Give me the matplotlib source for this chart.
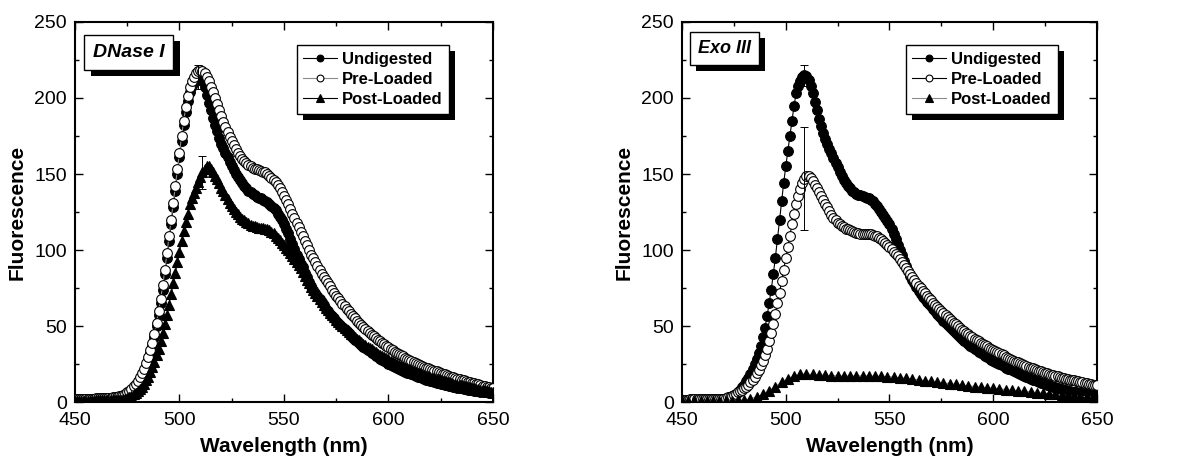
"""
Fluorescence emission spectra after DNase I / Exo III digestion.
"""

import numpy as np
import matplotlib.pyplot as plt
from matplotlib import patheffects as pe
from matplotlib.ticker import MultipleLocator

plt.rcParams['font.family'] = ['Liberation Sans', 'DejaVu Sans']

# --- DATA ---
wavelength = np.arange(450, 651)          # 1 nm steps
wavelength_coarse = np.arange(450, 649, 3)  # Exo III post-loaded scan, 3 nm steps

dnase_undigested = [
    1.9, 1.9, 2.0, 2.0, 1.9, 2.0, 2.0, 2.1, 2.0, 2.1,
    2.1, 2.1, 2.2, 2.2, 2.3, 2.3, 2.4, 2.5, 2.6, 2.8,
    3.0, 3.3, 3.7, 4.2, 4.8, 5.5, 6.4, 7.5, 8.8, 10.4,
    12.3, 14.5, 17.0, 20.0, 23.5, 27.5, 32.0, 37.0, 43.0, 50.0,
    57, 65, 74, 84, 95, 106, 117, 128, 139, 150,
    161, 172, 182, 191, 198, 204, 208, 211, 213, 214,
    213, 211, 207, 202, 197, 192, 187, 182, 178, 174,
    170, 167, 164, 161, 158, 155, 152.5, 150, 148, 146,
    144, 142, 140.5, 139, 138, 137, 136, 135, 134.5, 134,
    133, 132.5, 131.5, 130.5, 129, 127.5, 126, 124, 122, 119.5,
    117, 114, 111, 107.5, 104, 100.5, 97, 94, 91, 88.5,
    85, 82, 79, 76.5, 74, 71.5, 69.5, 67.5, 65.5, 63.5,
    61.5, 59.8, 58.2, 56.6, 55.1, 53.6, 52.2, 50.8, 49.4, 47.9,
    46.5, 45.1, 43.7, 42.4, 41.1, 39.9, 38.7, 37.5, 36.4, 35.3,
    34.3, 33.3, 32.3, 31.3, 30.4, 29.5, 28.6, 27.7, 26.9, 26.1,
    25.3, 24.6, 23.9, 23.2, 22.5, 21.8, 21.2, 20.6, 20.0, 19.4,
    18.8, 18.3, 17.7, 17.2, 16.7, 16.2, 15.7, 15.2, 14.8, 14.3,
    13.9, 13.5, 13.1, 12.7, 12.3, 12.0, 11.6, 11.3, 10.9, 10.6,
    10.3, 10.0, 9.7, 9.4, 9.2, 8.9, 8.6, 8.4, 8.1, 7.9,
    7.7, 7.5, 7.3, 7.1, 6.9, 6.7, 6.5, 6.3, 6.1, 5.9,
    5.8,
]

dnase_preloaded = [
    2.0, 2.1, 2.1, 2.2, 2.1, 2.2, 2.2, 2.3, 2.3, 2.3,
    2.4, 2.4, 2.5, 2.5, 2.6, 2.7, 2.8, 2.9, 3.0, 3.1,
    3.3, 3.7, 4.2, 4.8, 5.5, 6.4, 7.5, 8.8, 10.3, 12.0,
    14.0, 16.3, 19.0, 22.0, 25.5, 29.5, 34, 39, 45, 52,
    60, 68, 77, 87, 98, 109, 120, 131, 142, 153,
    164, 175, 185, 194, 201, 207, 211, 214, 216.5, 218,
    218.5, 218, 216.5, 214, 211, 207.5, 204, 200, 196, 192,
    188, 184.5, 181, 177.5, 174.5, 171.5, 169, 166.5, 164, 162,
    160, 158.5, 157, 156, 155, 154, 153.5, 153, 152.5, 152,
    151.5, 151, 150, 149, 147.5, 146, 144.5, 142.5, 140.5, 138,
    135.5, 133, 130, 127, 124, 121, 118, 115, 112, 109,
    106, 103, 100, 97, 94.5, 92, 89.5, 87, 84.5, 82,
    80, 78, 76, 74, 72, 70, 68.2, 66.4, 64.6, 62.9,
    61.2, 59.6, 58, 56.5, 55, 53.5, 52.1, 50.7, 49.4, 48.1,
    46.8, 45.6, 44.4, 43.2, 42.1, 41, 39.9, 38.9, 37.9, 36.9,
    35.9, 35, 34.1, 33.2, 32.4, 31.6, 30.8, 30, 29.2, 28.5,
    27.8, 27.1, 26.4, 25.7, 25.1, 24.5, 23.9, 23.3, 22.7, 22.1,
    21.6, 21.1, 20.6, 20.1, 19.6, 19.1, 18.6, 18.1, 17.6, 17.2,
    16.6, 16.2, 15.8, 15.4, 15.0, 14.6, 14.2, 13.8, 13.4, 13.0,
    12.6, 12.3, 12.0, 11.6, 11.2, 10.8, 10.4, 10.0, 9.7, 9.4,
    9.1,
]

dnase_postloaded = [
    0.8, 0.8, 0.8, 0.9, 0.8, 0.9, 0.9, 0.9, 0.9, 0.9,
    1.0, 1.0, 1.0, 1.0, 1.0, 1.0, 1.1, 1.1, 1.1, 1.1,
    1.2, 1.4, 1.6, 1.9, 2.3, 2.8, 3.4, 4.1, 5.0, 6.0,
    7.2, 8.6, 10.2, 12.0, 14.2, 16.7, 19.5, 22.8, 26.5, 30.6,
    35.2, 40.2, 45.6, 51.4, 57.5, 64, 71, 78, 85, 92,
    99, 106, 112.5, 118.5, 124, 130, 134, 137.5, 141, 144.5,
    148, 151, 153.5, 155, 155, 153.5, 151.5, 149, 146.5, 144,
    141, 138.5, 136, 133.5, 131, 129, 127, 125, 123.5, 122,
    120.5, 119.5, 118.5, 117.5, 116.5, 116, 115.5, 115, 114.5, 114.5,
    114.5, 114, 113.5, 113, 112, 111, 109.5, 108, 106.5, 104.5,
    103, 101.5, 100, 98, 96, 94, 92, 90, 88, 85.5,
    83, 80.5, 78, 75.5, 73.5, 71.5, 69.5, 67.5, 65.5, 63.7,
    62, 60.3, 58.7, 57.1, 55.6, 54.1, 52.7, 51.3, 50, 48.7,
    47.4, 46.2, 45, 43.8, 42.7, 41.6, 40.5, 39.4, 38.4, 37.4,
    36.4, 35.5, 34.6, 33.7, 32.8, 31.9, 31.1, 30.3, 29.5, 28.7,
    28, 27.3, 26.6, 25.9, 25.2, 24.5, 23.9, 23.3, 22.7, 22.1,
    21.5, 20.9, 20.4, 19.9, 19.4, 18.9, 18.4, 17.9, 17.4, 16.9,
    16.5, 16.1, 15.7, 15.3, 14.9, 14.5, 14.1, 13.7, 13.3, 12.9,
    12.5, 12.1, 11.8, 11.5, 11.2, 10.9, 10.6, 10.3, 10.0, 9.7,
    9.4, 9.1, 8.8, 8.5, 8.2, 7.9, 7.6, 7.3, 7.0, 6.7,
    6.4,
]

exo_undigested = [
    1.5, 1.5, 1.5, 1.6, 1.5, 1.6, 1.6, 1.6, 1.6, 1.7,
    1.7, 1.7, 1.7, 1.8, 1.8, 1.8, 1.8, 1.9, 1.9, 1.9,
    2.0, 2.3, 2.7, 3.2, 3.8, 4.6, 5.5, 6.6, 8.0, 9.6,
    11.5, 13.6, 16, 18.7, 21.6, 24.8, 28.4, 32.4, 37, 42.5,
    49, 56.5, 65, 74, 84, 95, 107, 119.5, 132, 144,
    155, 165, 175, 185, 195, 203, 208, 211, 213.5, 215,
    214.5, 212, 208, 203, 197.5, 192, 186.5, 181.5, 177, 173,
    169.5, 166.5, 163.5, 160.5, 157.5, 154.5, 151.5, 148.5, 146, 144,
    142, 140.5, 139, 138, 137, 136.5, 136, 135.5, 135, 134.5,
    134, 133, 132, 130.5, 129, 127, 125, 123, 121, 119,
    117, 114, 110.5, 107, 103.5, 100, 96.5, 93, 89.5, 86,
    83, 80.5, 78, 75.5, 73, 71, 69, 67.5, 66, 64.5,
    63, 61.3, 59.6, 58, 56.5, 55, 53.5, 52, 50.6, 49.2,
    47.8, 46.5, 45.2, 44, 42.8, 41.6, 40.4, 39.3, 38.2, 37.1,
    36.1, 35.1, 34.1, 33.1, 32.2, 31.3, 30.4, 29.5, 28.7, 27.9,
    27.1, 26.3, 25.5, 24.8, 24.1, 23.4, 22.7, 22, 21.4, 20.8,
    20.2, 19.5, 18.9, 18.2, 17.6, 17.0, 16.4, 15.8, 15.2, 14.7,
    14.2, 13.7, 13.2, 12.7, 12.2, 11.8, 11.4, 11.0, 10.6, 10.1,
    9.6, 9.2, 8.8, 8.5, 8.1, 7.8, 7.5, 7.2, 6.9, 6.6,
    6.4, 6.1, 5.9, 5.7, 5.4, 5.2, 5.0, 4.8, 4.6, 4.4,
    4.2,
]

exo_preloaded = [
    1.6, 1.6, 1.6, 1.6, 1.7, 1.7, 1.7, 1.7, 1.7, 1.8,
    1.8, 1.8, 1.8, 1.9, 1.9, 1.9, 1.9, 2.0, 2.0, 2.1,
    2.2, 2.6, 3.0, 3.5, 4.1, 4.8, 5.5, 6.3, 7.2, 8.1,
    9.1, 10.2, 11.5, 13, 14.7, 16.6, 18.8, 21.3, 24.1, 27.3,
    31, 35.2, 40, 45.5, 51.5, 58, 65, 72, 79.5, 87,
    94.5, 102, 109.5, 117, 124, 130, 135.5, 140, 144, 147,
    148.5, 148.5, 147.5, 145.5, 143, 140.5, 138, 135.5, 133, 130.5,
    128, 125.5, 123, 121, 119.5, 118, 117, 116, 115, 114,
    113.5, 113, 112.5, 112, 111.5, 111, 110.5, 110.5, 110.5, 110.5,
    110.5, 110.5, 110, 109.5, 109, 108, 107, 106, 104.5, 103,
    102, 100.5, 99, 97.5, 95.8, 94, 92, 90, 88, 86,
    84, 82, 80, 78.2, 76.4, 74.7, 73, 71.4, 69.8, 68.3,
    66.8, 65.3, 63.9, 62.5, 61.1, 59.7, 58.4, 57.1, 55.8, 54.6,
    53.4, 52.2, 51, 49.9, 48.8, 47.7, 46.6, 45.6, 44.6, 43.6,
    42.6, 41.7, 40.8, 39.9, 39, 38.2, 37.4, 36.6, 35.8, 35,
    34.2, 33.4, 32.7, 32, 31.3, 30.6, 29.9, 29.2, 28.5, 27.8,
    27.2, 26.6, 26, 25.4, 24.8, 24.2, 23.6, 23.1, 22.6, 22.1,
    21.6, 21.1, 20.6, 20.1, 19.6, 19.2, 18.8, 18.4, 18, 17.6,
    17.2, 16.8, 16.4, 16, 15.7, 15.4, 15.1, 14.8, 14.5, 14.2,
    13.9, 13.6, 13.3, 13, 12.7, 12.4, 12.1, 11.8, 11.5, 11.2,
    10.9,
]

exo_postloaded = [
    0.5, 0.5, 0.5, 0.5, 0.5, 0.6, 0.6, 0.7, 0.8, 1.0,
    1.4, 2.2, 3.4, 5.2, 7.5, 10.2, 13.0, 15.4, 17.2, 18.3,
    18.4, 18.1, 17.8, 17.6, 17.4, 17.2, 17.1, 17.0, 17.1, 17.2,
    17.1, 17.0, 16.9, 16.7, 16.4, 16.0, 15.6, 15.1, 14.6, 14.1,
    13.6, 13.1, 12.6, 12.1, 11.6, 11.1, 10.6, 10.2, 9.8, 9.4,
    9.0, 8.6, 8.2, 7.8, 7.4, 7.0, 6.6, 6.2, 5.8, 5.4,
    5.0, 4.7, 4.4, 4.1, 3.8, 3.5, 3.2,
]

# error bars: (series, wavelength, half-width)
dnase_errors = [('Undigested', 509, 8), ('Post-Loaded', 511, 11)]
exo_errors = [('Undigested', 509, 7), ('Pre-Loaded', 509, 34)]

LABELS = ['Undigested', 'Pre-Loaded', 'Post-Loaded']

fig = plt.figure(figsize=(11.83, 4.68), dpi=100)
ax1 = fig.add_axes([0.0634, 0.141, 0.3533, 0.812])
ax2 = fig.add_axes([0.5765, 0.141, 0.3508, 0.812])

shadow = [pe.SimplePatchShadow(offset=(4.5, -4.5), shadow_rgbFace='black', alpha=1.0),
          pe.Normal()]


def draw_panel(ax, series, errors, name, name_xy, legend_anchor, line_colors, name_size):
    lines = {}
    styles = [('o', 'black', 7.0), ('o', 'white', 7.0), ('^', 'black', 7.5)]
    for (x, y, label), (mk, fc, ms), lc in zip(series, styles, line_colors):
        ax.plot(x, y, '-', color=lc, lw=0.8, marker=mk, ms=ms,
                mfc=fc, mec='black', mew=0.8, label=label, zorder=3)
        lines[label] = (np.asarray(x), np.asarray(y))

    for label, nm, err in errors:
        x, y = lines[label]
        yv = y[x == nm][0]
        ax.errorbar(nm, yv, yerr=err, fmt='none', ecolor='black',
                    elinewidth=0.7, capsize=3, capthick=0.7, zorder=4)

    ax.set_xlim(450, 650)
    ax.set_ylim(0, 250)
    ax.xaxis.set_major_locator(MultipleLocator(50))
    ax.xaxis.set_minor_locator(MultipleLocator(25))
    ax.yaxis.set_major_locator(MultipleLocator(50))
    ax.yaxis.set_minor_locator(MultipleLocator(25))
    ax.tick_params(which='both', direction='in', top=True, right=True,
                   labelsize=14, width=1.0)
    ax.tick_params(axis='x', pad=7)
    ax.tick_params(axis='y', pad=6)
    ax.tick_params(which='major', length=6)
    ax.tick_params(which='minor', length=3)
    for sp in ax.spines.values():
        sp.set_linewidth(1.5)
    ax.set_xlabel('Wavelength (nm)', fontsize=15, fontweight='bold', labelpad=6)
    ax.set_ylabel('Fluorescence', fontsize=15, fontweight='bold', labelpad=5)

    leg = ax.legend(loc='upper right', bbox_to_anchor=legend_anchor, borderaxespad=0,
                    fancybox=False, edgecolor='black', framealpha=1,
                    prop={'weight': 'bold', 'size': 12}, handlelength=2.0,
                    handletextpad=0.3, labelspacing=0.32, borderpad=0.4,
                    numpoints=1, markerscale=0.7)
    leg.get_frame().set_linewidth(1.0)
    leg.get_frame().set_path_effects(shadow)

    t = ax.text(name_xy[0], name_xy[1], name, transform=ax.transAxes,
                ha='center', va='center', fontsize=name_size, fontweight='bold',
                style='italic', zorder=6,
                bbox=dict(boxstyle='square,pad=0.45', fc='white', ec='black', lw=1.0))
    t.get_bbox_patch().set_path_effects(shadow)


draw_panel(ax1,
           [(wavelength, dnase_undigested, LABELS[0]),
            (wavelength, dnase_preloaded, LABELS[1]),
            (wavelength, dnase_postloaded, LABELS[2])],
           dnase_errors, 'DNase I', (0.129, 0.92), (0.895, 0.9395),
           ['black', '0.55', 'black'], 14)

draw_panel(ax2,
           [(wavelength, exo_undigested, LABELS[0]),
            (wavelength, exo_preloaded, LABELS[1]),
            (wavelength_coarse, exo_postloaded, LABELS[2])],
           exo_errors, 'Exo III', (0.102, 0.930), (0.906, 0.9395),
           ['black', 'black', '0.55'], 13)

fig.savefig('out.png', dpi=100)
